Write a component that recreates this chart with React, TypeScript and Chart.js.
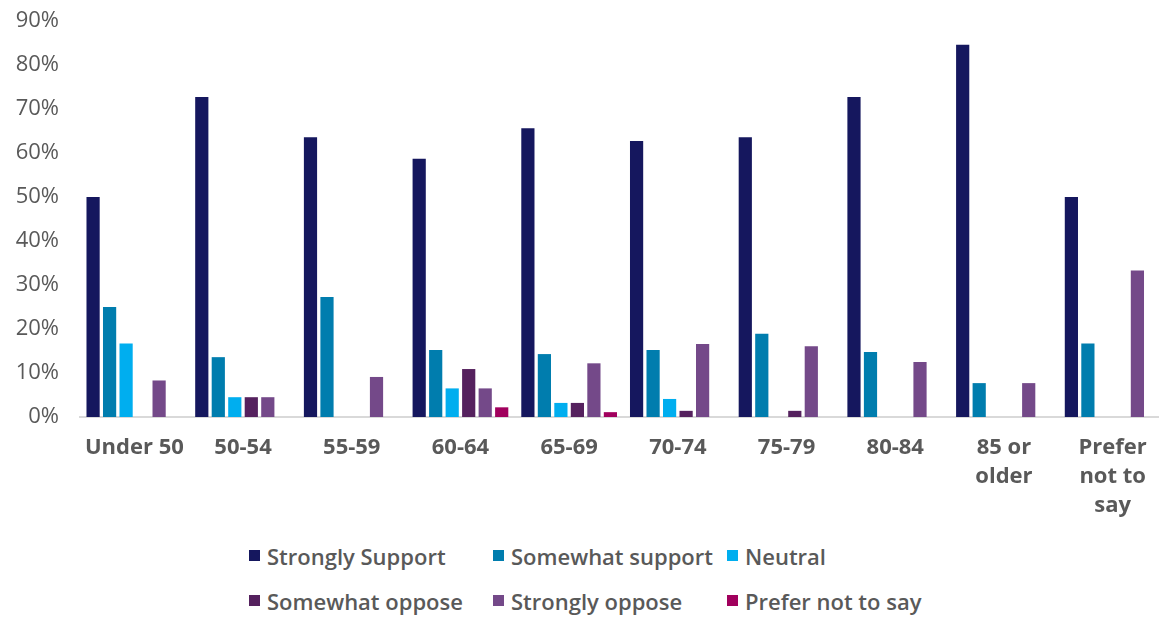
import React, { useEffect, useRef } from "react";
import { Chart, registerables } from "chart.js";

Chart.register(...registerables);

const categories: (string | string[])[] = [
  "Under 50",
  "50-54",
  "55-59",
  "60-64",
  "65-69",
  "70-74",
  "75-79",
  "80-84",
  ["85 or", "older"],
  ["Prefer", "not to", "say"],
];

const seriesNames = [
  "Strongly Support",
  "Somewhat support",
  "Neutral",
  "Somewhat oppose",
  "Strongly oppose",
  "Prefer not to say",
];

const seriesColors = ["#15175E", "#007DAE", "#00AEEF", "#55215E", "#744989", "#A1005D"];

const stronglySupport = [50.0, 72.7, 63.6, 58.7, 65.6, 62.7, 63.6, 72.7, 84.6, 50.0];
const somewhatSupport = [25.0, 13.6, 27.3, 15.2, 14.3, 15.2, 18.9, 14.8, 7.7, 16.7];
const neutral = [16.7, 4.5, 0, 6.5, 3.2, 4.1, 0, 0, 0, 0];
const somewhatOppose = [0, 4.5, 0, 10.9, 3.2, 1.4, 1.4, 0, 0, 0];
const stronglyOppose = [8.3, 4.5, 9.1, 6.5, 12.2, 16.6, 16.1, 12.5, 7.7, 33.3];
const preferNotToSay = [0, 0, 0, 2.2, 1.1, 0, 0, 0, 0, 0];

const seriesValues = [
  stronglySupport,
  somewhatSupport,
  neutral,
  somewhatOppose,
  stronglyOppose,
  preferNotToSay,
];

const FONT = "'Open Sans', Lato, sans-serif";
const TEXT = "#595959";

export default function App() {
  const ref = useRef<HTMLCanvasElement | null>(null);

  useEffect(() => {
    document.documentElement.style.margin = "0";
    document.body.style.margin = "0";
    document.body.style.overflow = "hidden";
    const canvas = ref.current;
    if (!canvas) return;
    const chart = new Chart(canvas, {
      type: "bar",
      data: {
        labels: categories,
        datasets: seriesNames.map((name, i) => ({
          label: name,
          data: seriesValues[i],
          backgroundColor: seriesColors[i],
          borderWidth: 0,
          barPercentage: 0.8,
          categoryPercentage: 0.911,
        })),
      },
      options: {
        responsive: false,
        animation: false,
        layout: { padding: { top: 21, left: 0, right: 1, bottom: 0 } },
        plugins: {
          legend: { display: false },
          tooltip: { enabled: false },
          title: { display: false },
        },
        scales: {
          x: {
            grid: { display: false, drawTicks: false },
            border: { display: true, color: "#D9D9D9", width: 2 },
            ticks: {
              color: TEXT,
              padding: 16,
              maxRotation: 0,
              autoSkip: false,
              font: { family: FONT, size: 22, weight: "bold", lineHeight: 1.32 },
            },
            afterFit: (scale: any) => {
              scale.height = 530 - 417;
            },
          },
          y: {
            min: 0,
            max: 90,
            grid: { display: false, drawTicks: false },
            border: { display: false },
            ticks: {
              stepSize: 10,
              color: TEXT,
              padding: 21,
              font: { family: FONT, size: 22 },
              callback: (v: any) => `${v}%`,
            },
            afterFit: (scale: any) => {
              scale.width = 80;
              scale.paddingTop = 0;
              scale.paddingBottom = 0;
            },
          },
        },
      },
    });
    return () => chart.destroy();
  }, []);

  return (
    <div
      style={{
        position: "relative",
        width: 1159,
        height: 617,
        overflow: "hidden",
        background: "#fff",
      }}
    >
      <canvas ref={ref} width={1168} height={530} style={{ display: "block" }} />
      <div
        style={{
          position: "absolute",
          left: 249,
          top: 533,
          display: "grid",
          gridTemplateColumns: "244px 234px auto",
          gridAutoRows: "45px",
          fontFamily: FONT,
          fontSize: 22,
          fontWeight: 600,
          color: TEXT,
          whiteSpace: "nowrap",
        }}
      >
        {seriesNames.map((name, i) => (
          <div key={name} style={{ display: "flex", alignItems: "center", height: 45 }}>
            <span
              style={{
                display: "inline-block",
                width: 11,
                height: 11,
                background: seriesColors[i],
                marginRight: 7,
              }}
            />
            <span>{name}</span>
          </div>
        ))}
      </div>
    </div>
  );
}
